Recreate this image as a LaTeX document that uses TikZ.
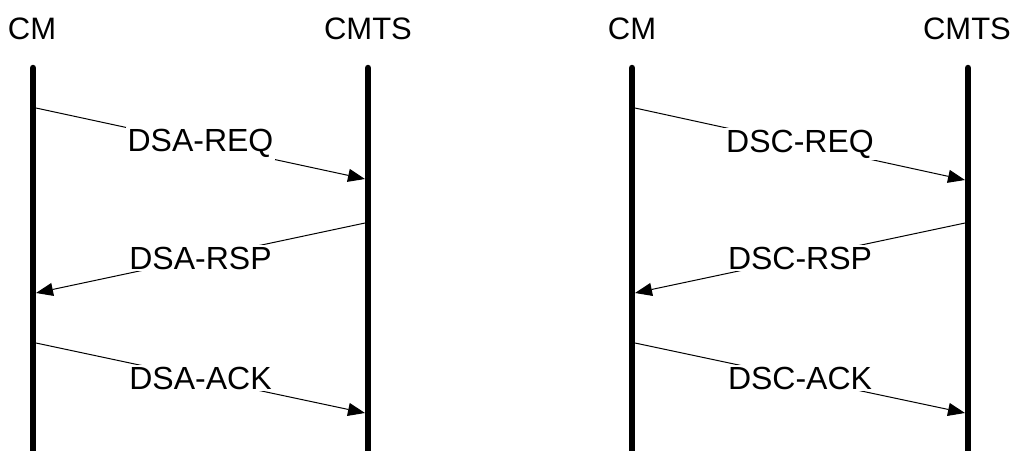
\documentclass[tikz,border=0pt]{standalone}
\usepackage{fontspec}
\setmainfont{Liberation Sans}
\usetikzlibrary{arrows.meta}
\begin{document}
\begin{tikzpicture}[x=1pt,y=-1pt,
  lifeline/.style={line width=6.5pt,line cap=round},
  actor/.style={font=\fontsize{31}{37}\selectfont,anchor=base,inner sep=0pt},
  msg/.style={line width=1pt,-{Triangle[length=17pt,width=13pt]}},
  msglabel/.style={font=\fontsize{32}{38}\selectfont,fill=white,inner sep=2pt,midway}]
\useasboundingbox (0,0) rectangle (1015,450);
% left diagram
\node[actor] (cmA) at (32,39) {CM};
\node[actor] (cmtsA) at (368,39) {CMTS};
\coordinate (cmAtop) at (33,68);
\coordinate (cmAbot) at (33,456);
\coordinate (cmtsAtop) at (368,68);
\coordinate (cmtsAbot) at (368,456);
\draw[lifeline] (cmAtop) -- (cmAbot);
\draw[lifeline] (cmtsAtop) -- (cmtsAbot);
\coordinate (a1s) at (36,108);
\coordinate (a1e) at (365,179);
\coordinate (a2s) at (365,223);
\coordinate (a2e) at (36,293);
\coordinate (a3s) at (36,343);
\coordinate (a3e) at (365,413);
\draw[msg] (a1s) -- node[msglabel] (l1) {DSA-REQ} (a1e);
\draw[msg] (a2s) -- node[msglabel] (l2) {DSA-RSP} (a2e);
\draw[msg] (a3s) -- node[msglabel] (l3) {DSA-ACK} (a3e);
% right diagram
\node[actor] (cmB) at (632,39) {CM};
\node[actor] (cmtsB) at (967,39) {CMTS};
\coordinate (cmBtop) at (632,68);
\coordinate (cmBbot) at (632,456);
\coordinate (cmtsBtop) at (968,68);
\coordinate (cmtsBbot) at (968,456);
\draw[lifeline] (cmBtop) -- (cmBbot);
\draw[lifeline] (cmtsBtop) -- (cmtsBbot);
\coordinate (b1s) at (635,108);
\coordinate (b1e) at (965,180);
\coordinate (b2s) at (965,223);
\coordinate (b2e) at (635,293);
\coordinate (b3s) at (635,343);
\coordinate (b3e) at (965,413);
\draw[msg] (b1s) -- node[msglabel] (m1) {DSC-REQ} (b1e);
\draw[msg] (b2s) -- node[msglabel] (m2) {DSC-RSP} (b2e);
\draw[msg] (b3s) -- node[msglabel] (m3) {DSC-ACK} (b3e);
\end{tikzpicture}
\end{document}
